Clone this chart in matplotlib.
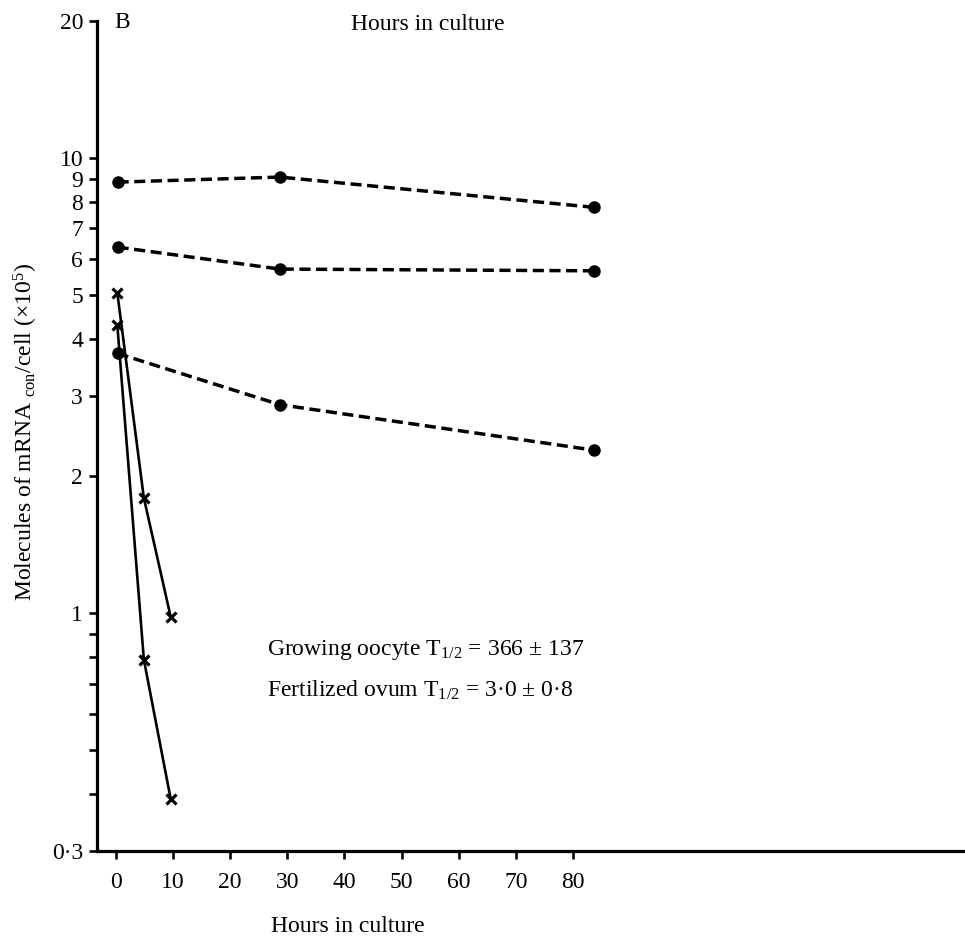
import matplotlib
matplotlib.use("Agg")
import matplotlib.pyplot as plt
from matplotlib.ticker import FixedLocator, FixedFormatter, NullFormatter

plt.rcParams['font.family'] = ['Liberation Serif', 'DejaVu Serif']
plt.rcParams['mathtext.fontset'] = 'custom'
plt.rcParams['mathtext.rm'] = 'Liberation Serif'
plt.rcParams['mathtext.it'] = 'Liberation Serif:italic'
plt.rcParams['mathtext.bf'] = 'Liberation Serif:bold'

# Growing oocyte series (filled circles, dashed)
oocyte_hours = [0.3, 28.7, 83.7]
oocyte_a = [8.85, 9.08, 7.79]
oocyte_b = [6.37, 5.70, 5.65]
oocyte_c = [3.72, 2.87, 2.28]

# Fertilized ovum series (crosses, solid)
ovum_hours = [0.25, 4.9, 9.6]
ovum_a = [5.06, 1.79, 0.98]
ovum_b = [4.30, 0.79, 0.39]

ymajor = [0.3, 1, 2, 3, 4, 5, 6, 7, 8, 9, 10, 20]
ymajor_labels = ['0·3', '1', '2', '3', '4', '5', '6', '7', '8', '9', '10', '20']
yminor = [0.4, 0.5, 0.6, 0.7, 0.8, 0.9]
xticks = [0, 10, 20, 30, 40, 50, 60, 70, 80]

FS = 17
W, H = 965, 939
fig = plt.figure(figsize=(W / 100, H / 100), dpi=100)
ax = fig.add_axes([97 / W, (H - 851) / H, (W - 97) / W, (851 - 21) / H])

for ys in (oocyte_a, oocyte_b, oocyte_c):
    ax.plot(oocyte_hours, ys, color='black', lw=2.5, ls=(0, (3.2, 1.6)),
            marker='o', ms=8, mfc='black', mec='black', zorder=3)
for ys in (ovum_a, ovum_b):
    ax.plot(ovum_hours, ys, color='black', lw=1.9, ls='-',
            marker='x', ms=7, mew=2.3, mec='black', zorder=3)

ax.set_yscale('log')
ax.set_ylim(0.3, 20)
ax.set_xlim(-3.3, 148.6)

ax.yaxis.set_major_locator(FixedLocator(ymajor))
ax.yaxis.set_major_formatter(FixedFormatter(ymajor_labels))
ax.yaxis.set_minor_locator(FixedLocator(yminor))
ax.yaxis.set_minor_formatter(NullFormatter())
ax.set_xticks(xticks)
ax.set_xticklabels([str(v) for v in xticks])

for s in ('top', 'right'):
    ax.spines[s].set_visible(False)
for s in ('left', 'bottom'):
    ax.spines[s].set_linewidth(2.3)

ax.tick_params(axis='both', which='both', direction='out', length=6, width=1.9,
               labelsize=FS, pad=4, colors='black')
ax.tick_params(axis='x', pad=9)

fig.text(348 / W, 1 - 927 / H, 'Hours in culture', ha='center', va='center', fontsize=FS)
fig.text(428 / W, 1 - 25 / H, 'Hours in culture', ha='center', va='center', fontsize=FS)
fig.text(122 / W, 1 - 22 / H, 'B', ha='center', va='center', fontsize=FS)
fig.text(26 / W, 1 - 432 / H, r'Molecules of mRNA $_{\mathrm{con}}$/cell (×10$^{5}$)',
         rotation=90, ha='center', va='center', fontsize=FS)
fig.text(267 / W, 1 - 650 / H, r'Growing oocyte T$_{1/2}$ = 366 ± 137',
         ha='left', va='center', fontsize=FS)
fig.text(267 / W, 1 - 690 / H, r'Fertilized ovum T$_{1/2}$ = 3·0 ± 0·8',
         ha='left', va='center', fontsize=FS)

fig.savefig('out.png', dpi=100)
